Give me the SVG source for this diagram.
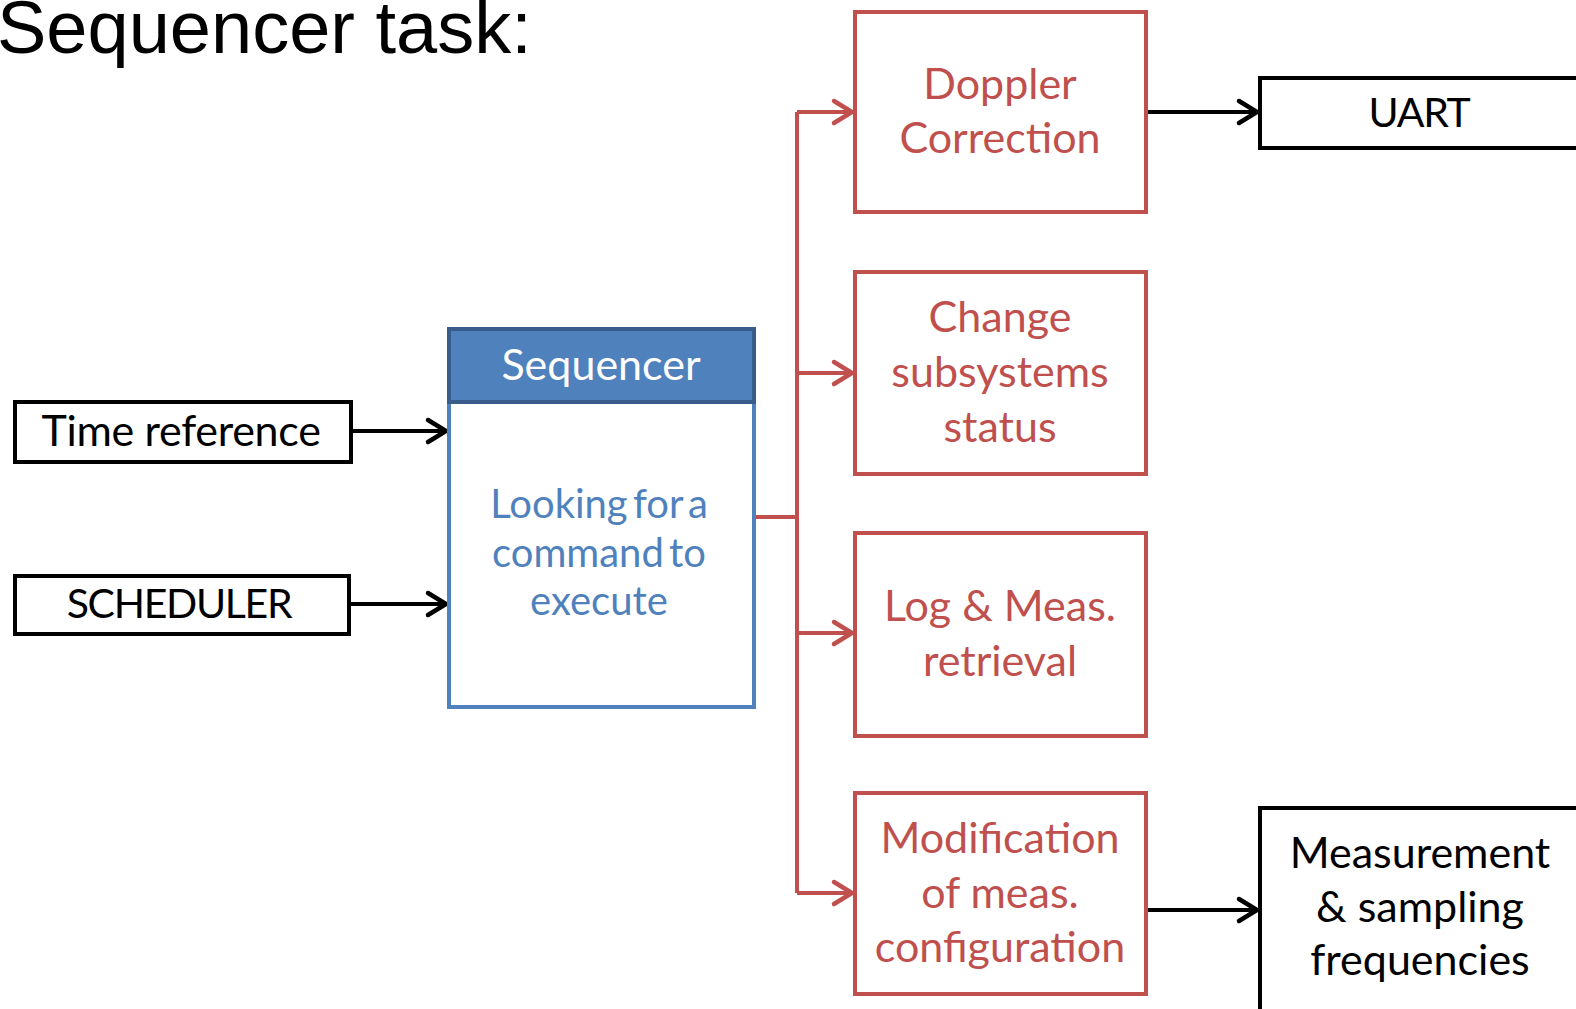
<svg xmlns="http://www.w3.org/2000/svg" width="1576" height="1009" viewBox="0 0 1576 1009">
  <style>
    .lbl { font-family: Lato, "Noto Sans", sans-serif; font-size: 43px; text-anchor: middle; }
    .tight { font-size: 40px; word-spacing: -5px; }
    .caps { font-size: 41px; letter-spacing: -1.3px; }
    .blk { fill: #000; }
    .red { fill: #C0504D; }
    .blu { fill: #4F81BD; }
    .box { fill: #fff; stroke: #000; stroke-width: 4; }
    .rbox { fill: #fff; stroke: #C0504D; stroke-width: 4; }
    .kline { fill: none; stroke: #000; stroke-width: 4; }
    .rline { fill: none; stroke: #C0504D; stroke-width: 4; }
  </style>
  <defs>
    <marker id="arrK" markerUnits="userSpaceOnUse" viewBox="-24 -16 28 32" refX="0" refY="0" markerWidth="28" markerHeight="32" orient="auto" overflow="visible">
      <path d="M-19,-11 L-1,0 L-19,11" fill="none" stroke="#000" stroke-width="4.5" stroke-linecap="round" stroke-linejoin="miter"/>
    </marker>
    <marker id="arrR" markerUnits="userSpaceOnUse" viewBox="-24 -16 28 32" refX="0" refY="0" markerWidth="28" markerHeight="32" orient="auto" overflow="visible">
      <path d="M-19,-11 L-1,0 L-19,11" fill="none" stroke="#C0504D" stroke-width="4.5" stroke-linecap="round" stroke-linejoin="miter"/>
    </marker>
  </defs>

  <rect width="1576" height="1009" fill="#fff"/>

  <text x="-3" y="53" font-family="Liberation Sans, Arial, sans-serif" font-size="74" fill="#000">Sequencer task:</text>

  <!-- connectors -->
  <g id="connectors">
    <path class="kline" d="M352,431 H447" marker-end="url(#arrK)"/>
    <path class="kline" d="M350,604 H447" marker-end="url(#arrK)"/>
    <path class="rline" d="M755,517 H797"/>
    <path class="rline" d="M797,112 V893"/>
    <path class="rline" d="M797,112 H853" marker-end="url(#arrR)"/>
    <path class="rline" d="M797,373 H853" marker-end="url(#arrR)"/>
    <path class="rline" d="M797,633 H853" marker-end="url(#arrR)"/>
    <path class="rline" d="M797,893 H853" marker-end="url(#arrR)"/>
    <path class="kline" d="M1147,112 H1258" marker-end="url(#arrK)"/>
    <path class="kline" d="M1147,910 H1258" marker-end="url(#arrK)"/>
  </g>

  <g id="time-reference">
    <rect class="box" x="15" y="402" width="336" height="60"/>
    <text class="lbl blk" x="181" y="446" style="letter-spacing:-0.3px">Time reference</text>
  </g>

  <g id="scheduler">
    <rect class="box" x="15" y="576" width="334" height="58"/>
    <text class="lbl caps blk" x="179" y="618">SCHEDULER</text>
  </g>

  <g id="sequencer">
    <rect x="449" y="367" width="305" height="340" fill="#fff" stroke="#4F81BD" stroke-width="4"/>
    <rect x="449" y="329" width="305" height="73" fill="#4F81BD" stroke="#385D8A" stroke-width="4"/>
    <text class="lbl" x="601" y="380" fill="#fff">Sequencer</text>
    <text class="lbl tight blu" x="599" y="518">Looking for a</text>
    <text class="lbl tight blu" x="599" y="567">command to</text>
    <text class="lbl tight blu" x="599" y="615">execute</text>
  </g>

  <g id="doppler-correction">
    <rect class="rbox" x="855" y="12" width="291" height="200"/>
    <text class="lbl red" x="1000" y="99">Doppler</text>
    <text class="lbl red" x="1000" y="153">Correction</text>
  </g>

  <g id="change-subsystems-status">
    <rect class="rbox" x="855" y="272" width="291" height="202"/>
    <text class="lbl red" x="1000" y="332">Change</text>
    <text class="lbl red" x="1000" y="387">subsystems</text>
    <text class="lbl red" x="1000" y="442">status</text>
  </g>

  <g id="log-meas-retrieval">
    <rect class="rbox" x="855" y="533" width="291" height="203"/>
    <text class="lbl red" x="1000" y="621">Log &amp; Meas.</text>
    <text class="lbl red" x="1000" y="676">retrieval</text>
  </g>

  <g id="modification-config">
    <rect class="rbox" x="855" y="793" width="291" height="201"/>
    <text class="lbl red" x="1000" y="853">Modification</text>
    <text class="lbl red" x="1000" y="908">of meas.</text>
    <text class="lbl red" x="1000" y="962">configuration</text>
  </g>

  <g id="uart">
    <rect class="box" x="1260" y="78" width="330" height="70"/>
    <text class="lbl caps blk" x="1419" y="127">UART</text>
  </g>

  <g id="measurement-sampling">
    <rect class="box" x="1260" y="808" width="330" height="220"/>
    <text class="lbl blk" x="1420" y="868">Measurement</text>
    <text class="lbl blk" x="1420" y="922">&amp; sampling</text>
    <text class="lbl blk" x="1420" y="975">frequencies</text>
  </g>
</svg>
